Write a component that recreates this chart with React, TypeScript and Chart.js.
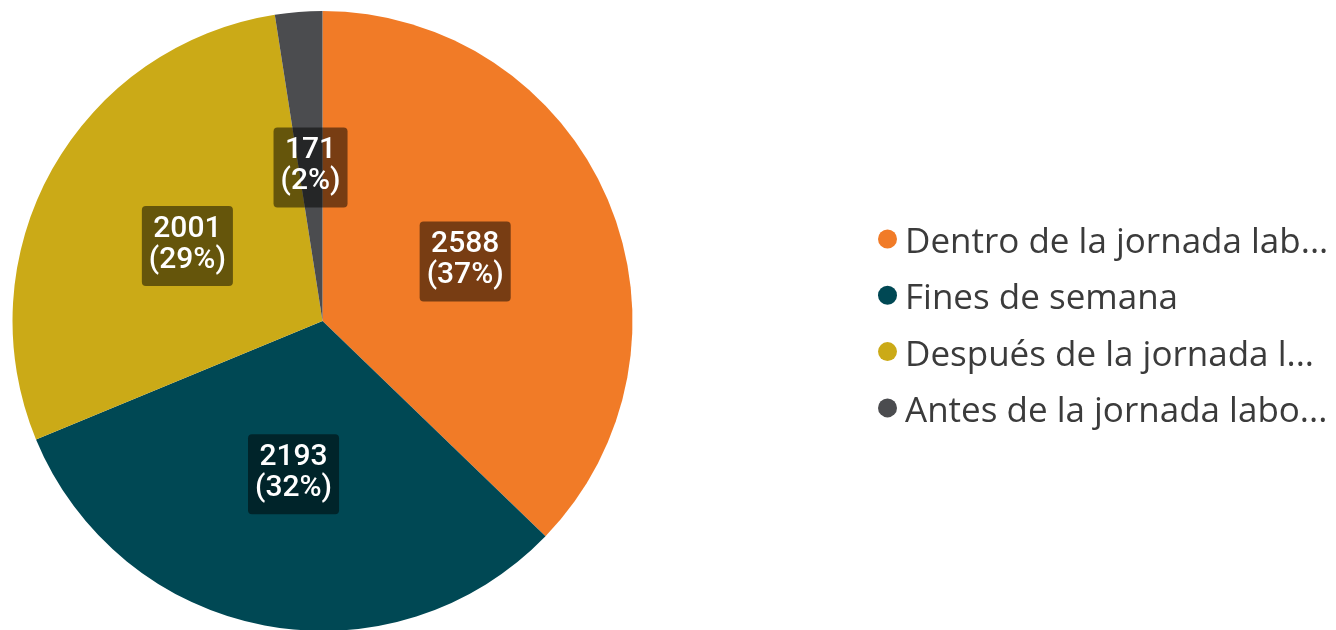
import React, { useEffect, useRef } from "react";
import { Chart, registerables } from "chart.js";

Chart.register(...registerables);

const categories = [
  "Dentro de la jornada lab...",
  "Fines de semana",
  "Después de la jornada l...",
  "Antes de la jornada labo...",
];
const values = [2588, 2193, 2001, 171];
const colors = ["#F17B27", "#004854", "#CBAA17", "#4B4C4F"];

const labelPlugin = {
  id: "sliceLabels",
  afterDatasetsDraw(chart: any) {
    const ctx = chart.ctx;
    const meta = chart.getDatasetMeta(0);
    const data = chart.data.datasets[0].data as number[];
    const total = data.reduce((a, b) => a + b, 0);
    ctx.save();
    ctx.font = "500 30px Roboto";
    ctx.textAlign = "center";
    ctx.textBaseline = "alphabetic";
    meta.data.forEach((arc: any, i: number) => {
      const pos = arc.tooltipPosition(false);
      const cx = pos.x;
      const cy = pos.y + 1;
      const l1 = String(data[i]);
      const l2 = "(" + Math.round((data[i] / total) * 100) + "%)";
      const w = Math.max(ctx.measureText(l1).width, ctx.measureText(l2).width) + 14;
      const h = 80;
      ctx.fillStyle = "rgba(0,0,0,0.5)";
      ctx.beginPath();
      (ctx as any).roundRect(cx - w / 2, cy - h / 2, w, h, 4);
      ctx.fill();
      ctx.fillStyle = "#ffffff";
      ctx.fillText(l1, cx, cy - 9.5);
      ctx.fillText(l2, cx, cy + 21.5);
    });
    ctx.restore();
  },
};

const legendPlugin = {
  id: "customLegend",
  afterDraw(chart: any) {
    const ctx = chart.ctx;
    const labels = chart.data.labels as string[];
    const bg = chart.data.datasets[0].backgroundColor as string[];
    ctx.save();
    ctx.font = "35px 'Open Sans'";
    ctx.textAlign = "left";
    ctx.textBaseline = "alphabetic";
    labels.forEach((lab, i) => {
      const off = i * 56.3;
      ctx.fillStyle = bg[i];
      ctx.beginPath();
      ctx.arc(887.5, 239 + off, 9.5, 0, Math.PI * 2);
      ctx.fill();
      ctx.fillStyle = "#3b3b3b";
      ctx.fillText(lab, 905, 253 + off);
    });
    ctx.restore();
  },
};

export default function App() {
  const ref = useRef<HTMLCanvasElement | null>(null);
  useEffect(() => {
    if (!ref.current) return;
    const chart = new Chart(ref.current, {
      type: "pie",
      data: {
        labels: categories,
        datasets: [
          {
            data: values,
            backgroundColor: colors,
            borderWidth: 0,
          },
        ],
      },
      options: {
        responsive: false,
        animation: false,
        layout: { padding: { top: 11, left: 12, right: 703, bottom: 9 } },
        plugins: {
          legend: { display: false },
          tooltip: { enabled: false },
        },
      },
      plugins: [labelPlugin, legendPlugin],
    });
    return () => chart.destroy();
  }, []);
  return (
    <div
      style={{
        position: "fixed",
        left: 0,
        top: 0,
        width: 1336,
        height: 630,
        overflow: "hidden",
        background: "#fff",
      }}
    >
      <canvas ref={ref} width={1336} height={640} style={{ display: "block" }} />
    </div>
  );
}
